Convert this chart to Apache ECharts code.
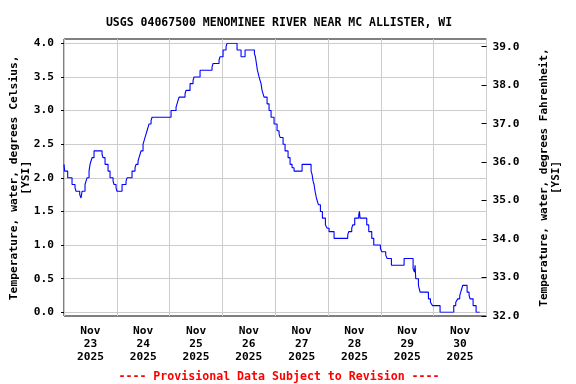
<!DOCTYPE html>
<html><head><meta charset="utf-8">
<script src="https://cdn.jsdelivr.net/npm/echarts@6/dist/echarts.min.js"></script>
<style>html,body{margin:0;padding:0;background:#fff}#c{width:576px;height:384px}</style>
</head><body><div id="c"></div>
<script>
const titleText = 'USGS 04067500 MENOMINEE RIVER NEAR MC ALLISTER, WI';
const noteText = '---- Provisional Data Subject to Revision ----';
const leftAxisName = 'Temperature, water, degrees Celsius,\n[YSI]';
const rightAxisName = 'Temperature, water, degrees Fahrenheit,\n[YSI]';
const dayLabels = ['Nov\n23\n2025','Nov\n24\n2025','Nov\n25\n2025','Nov\n26\n2025','Nov\n27\n2025','Nov\n28\n2025','Nov\n29\n2025','Nov\n30\n2025'];
const dayLabelHours = [12, 36, 60, 84, 108, 132, 156, 180];
// hours since 2025-11-23 00:00 at which the reading changes
const hours = [0,0.3,1.68,3.65,5.01,5.47,7.14,7.74,8.2,9.56,10.01,10.47,11.38,11.83,12.29,12.74,13.65,17.29,17.74,18.65,20.01,20.92,22.29,22.74,23.65,24.1,26.38,28.19,28.65,30.92,32.28,32.74,33.65,34.1,34.56,35.01,35.92,36.38,36.83,37.28,37.74,38.19,38.65,39.56,40.01,48.65,
50.92,51.37,51.83,52.28,55.01,55.46,57.28,58.65,59.1,61.83,67.28,67.74,70.46,70.92,72.28,73.64,74.1,78.64,80.46,82.28,86.52,86.98,87.43,87.89,88.64,89.1,89.55,90.01,90.91,92.28,93.19,94.1,95.46,
96.82,97.73,98.19,99.55,100.46,101.82,102.73,103.64,104.55,108.19,112.28,112.73,113.19,113.64,114.09,114.7,115.16,115.61,116.52,117.43,118.79,119.55,120.46,122.73,128.94,129.4,130.76,131.21,132.12,133.94,134.25,134.55,137.58,138.49,139.85,140.76,143.79,144.4,
146.2,146.82,148.79,154.55,158.64,159.25,159.55,159.7,159.85,161.06,161.82,165.61,166.52,167.42,170.9,177.12,178.03,178.93,179.84,180.3,180.75,181.21,183.18,184.09,184.54,185.91,187.27,188.94];
const tempC = [2.2,2.1,2.0,1.9,1.85,1.8,1.75,1.7,1.8,1.9,1.95,2.0,2.1,2.2,2.25,2.3,2.4,2.35,2.3,2.2,2.1,2.0,1.95,1.9,1.85,1.8,1.9,1.95,2.0,2.1,2.15,2.2,2.25,2.3,2.35,2.4,2.5,2.55,2.6,2.65,2.7,2.75,2.8,2.85,2.9,3.0,
3.05,3.1,3.15,3.2,3.25,3.3,3.4,3.45,3.5,3.6,3.65,3.7,3.75,3.8,3.9,3.95,4.0,3.9,3.8,3.9,3.85,3.8,3.7,3.6,3.5,3.45,3.4,3.3,3.2,3.1,3.0,2.9,2.8,
2.7,2.65,2.6,2.5,2.4,2.3,2.2,2.15,2.1,2.2,2.1,2.05,1.95,1.9,1.8,1.7,1.65,1.6,1.5,1.4,1.3,1.25,1.2,1.1,1.15,1.2,1.25,1.3,1.4,1.45,1.5,1.4,1.3,1.2,1.1,1.0,0.95,0.9,
0.85,0.8,0.7,0.8,0.65,0.6,0.7,0.6,0.5,0.4,0.3,0.2,0.15,0.1,0.0,0.1,0.15,0.2,0.25,0.3,0.35,0.4,0.3,0.25,0.2,0.1,0.0,0.0];

const FONT = 'DejaVu Sans Mono';
const txt = (extra) => Object.assign({fontFamily: FONT, fontWeight: 'bold', fontSize: 11, color: '#000'}, extra || {});
const chart = echarts.init(document.getElementById('c'), null, {renderer: 'canvas'});
chart.setOption({
  animation: false,
  backgroundColor: '#fff',
  title: [
    {text: titleText, left: 274, top: 12, textAlign: 'center', textStyle: txt({fontSize: 11.5})},
    {text: noteText, left: 274, top: 366, textAlign: 'center', textStyle: txt({fontSize: 11.6, color: '#ff0000'})}
  ],
  grid: [
    {left: 64, right: 89.5, top: 43.3, bottom: 71.7, show: false, containLabel: false, outerBoundsMode: 'none'},
    {left: 64, right: 89.5, top: 39, bottom: 68, show: true, borderColor: '#000', borderWidth: 1, backgroundColor: 'transparent', containLabel: false, outerBoundsMode: 'none'}
  ],
  xAxis: [
    {gridIndex: 0, type: 'value', min: 0, max: 192, show: false},
    {gridIndex: 1, type: 'value', min: 0, max: 192, interval: 24,
      axisLine: {show: false, onZero: false}, axisTick: {show: false},
      splitLine: {show: true, lineStyle: {color: '#cccccc', width: 1}},
      axisLabel: {customValues: dayLabelHours, margin: 9, lineHeight: 13,
        formatter: v => dayLabels[dayLabelHours.indexOf(v)] || '', ...txt({fontSize: 11.2})}}
  ],
  yAxis: [
    {gridIndex: 0, type: 'value', position: 'left', min: 0, max: 4, interval: 0.5,
      axisLine: {show: false, onZero: false},
      axisTick: {show: true, inside: false, length: 3, lineStyle: {color: '#000'}},
      splitLine: {show: true, lineStyle: {color: '#cccccc', width: 1}},
      axisLabel: {formatter: v => v.toFixed(1), margin: 10, ...txt({fontSize: 11.2})},
      name: leftAxisName, nameLocation: 'middle', nameRotate: 90, nameGap: 32, nameMoveOverlap: false,
      nameTextStyle: txt({fontSize: 11.3, lineHeight: 12})},
    {gridIndex: 1, type: 'value', position: 'right', min: 32, max: 39.2, interval: 1,
      axisLine: {show: false, onZero: false},
      axisTick: {show: true, inside: true, length: 5, lineStyle: {color: '#000'}},
      splitLine: {show: false},
      axisLabel: {formatter: v => v.toFixed(1), margin: 6, ...txt({fontSize: 11.2})},
      name: rightAxisName, nameLocation: 'middle', nameRotate: 90, nameGap: 52, nameMoveOverlap: false,
      nameTextStyle: txt({fontSize: 11, lineHeight: 12})}
  ],
  series: [{
    type: 'line', xAxisIndex: 0, yAxisIndex: 0, step: 'end', showSymbol: false,
    data: hours.map((h, i) => [h, tempC[i]]),
    lineStyle: {color: '#0000ff', width: 1.1}, clip: true
  }]
});
</script></body></html>
